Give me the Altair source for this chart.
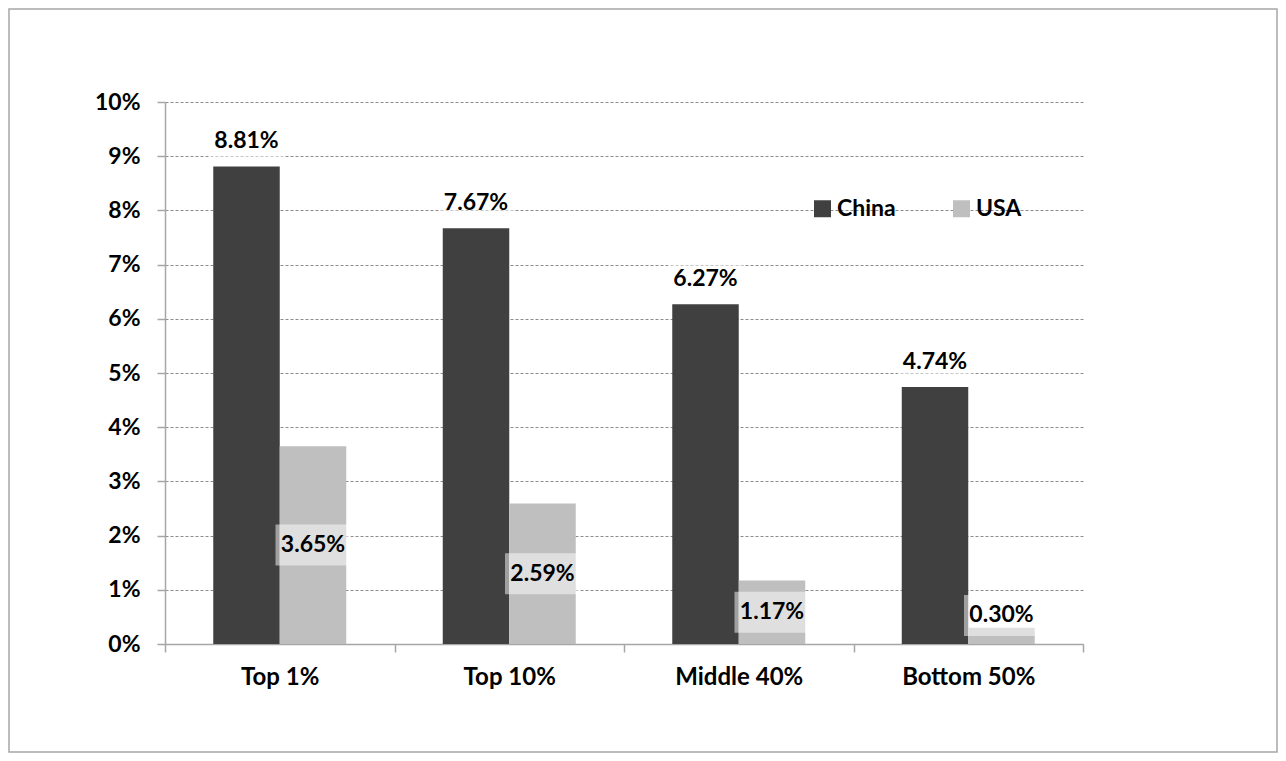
import altair as alt
import pandas as pd

# ---- data ----
categories = ["Top 1%", "Top 10%", "Middle 40%", "Bottom 50%"]
series = ["China", "USA"]
china = [8.81, 7.67, 6.27, 4.74]
usa = [3.65, 2.59, 1.17, 0.30]
colors = ["#404040", "#bfbfbf"]
y_ticks = [0, 1, 2, 3, 4, 5, 6, 7, 8, 9, 10]

rows = []
for name, vals in zip(series, [china, usa]):
    for c, v in zip(categories, vals):
        rows.append({"category": c, "country": name, "value": v / 100})
df = pd.DataFrame(rows)

W, H = 918, 542
FONT = "Lato"
WEIGHT = "bold"
AXIS_GRAY = "#a6a6a6"

x_scale = alt.Scale(paddingInner=0, paddingOuter=0)
x_axis = alt.Axis(
    title=None, labelAngle=0, tickBand="extent", tickSize=8, tickColor=AXIS_GRAY,
    tickWidth=1.5, domainColor=AXIS_GRAY, domainWidth=1.5, labelFont=FONT,
    labelFontSize=24, labelFontWeight=WEIGHT, labelColor="#000000", labelPadding=13,
    grid=False,
)
y_scale = alt.Scale(domain=[0, 0.1], nice=False)
y_axis = alt.Axis(
    title=None, values=[t / 100 for t in y_ticks], format=".0%", tickSize=8,
    tickColor=AXIS_GRAY, tickWidth=1.5, domainColor=AXIS_GRAY, domainWidth=1.5,
    labelFont=FONT, labelFontSize=23, labelFontWeight=WEIGHT, labelColor="#000000",
    labelPadding=17, grid=True, gridColor="#8c8c8c", gridDash=[3, 2], gridWidth=1,
)

X = alt.X("category:N", sort=categories, scale=x_scale, axis=x_axis)
XO = alt.XOffset("country:N", sort=series,
                 scale=alt.Scale(paddingInner=0, paddingOuter=0.7256))

base = alt.Chart(df)

bars = base.mark_bar().encode(
    x=X,
    xOffset=XO,
    y=alt.Y("value:Q", scale=y_scale, axis=y_axis),
    color=alt.Color(
        "country:N", sort=series,
        scale=alt.Scale(domain=series, range=colors),
        legend=alt.Legend(
            orient="none", legendX=646, legendY=95, direction="horizontal", title=None,
            symbolType="square", symbolSize=289, symbolStrokeWidth=0, labelFont=FONT,
            labelFontSize=23, labelFontWeight=WEIGHT, labelColor="#000000",
            columnPadding=54, labelOffset=3, padding=0,
        ),
    ),
)

# semi-transparent label boxes
china_box = base.transform_filter(alt.datum.country == "China").transform_calculate(
    lo="datum.value + 0.0011", hi="datum.value + 0.0085"
).mark_bar(width=75, xOffset=-4, color="#ffffff", opacity=0.5).encode(
    x=X, xOffset=XO,
    y=alt.Y("lo:Q", scale=y_scale, axis=y_axis), y2="hi:Q",
)

usa_box = base.transform_filter(alt.datum.country == "USA").transform_calculate(
    mid="max(datum.value / 2, 0.00526)"
).transform_calculate(
    lo="datum.mid - 0.00378", hi="datum.mid + 0.00378"
).mark_bar(width=75, xOffset=-4, color="#ffffff", opacity=0.5).encode(
    x=X, xOffset=XO,
    y=alt.Y("lo:Q", scale=y_scale, axis=y_axis), y2="hi:Q",
)

china_text = base.transform_filter(alt.datum.country == "China").mark_text(
    dy=-18, baseline="alphabetic", font=FONT, fontSize=23, fontWeight=WEIGHT, color="#000000"
).encode(
    x=X, xOffset=XO,
    y=alt.Y("value:Q", scale=y_scale, axis=y_axis),
    text=alt.Text("value:Q", format=".2%"),
)

usa_text = base.transform_filter(alt.datum.country == "USA").transform_calculate(
    mid="max(datum.value / 2, 0.00526)"
).mark_text(
    baseline="middle", font=FONT, fontSize=23, fontWeight=WEIGHT, color="#000000"
).encode(
    x=X, xOffset=XO,
    y=alt.Y("mid:Q", scale=y_scale, axis=y_axis),
    text=alt.Text("value:Q", format=".2%"),
)

frame = alt.Chart(alt.Data(values=[{"f": 1}])).mark_rect(
    fill="#ffffff", fillOpacity=0, stroke="#a6a6a6", strokeWidth=1.5
).encode(
    x=alt.value(-156), x2=alt.value(1112), y=alt.value(-93), y2=alt.value(650),
)

chart = alt.layer(frame, bars, china_box, usa_box, china_text, usa_text).properties(
    width=W, height=H,
    padding={"left": 157, "top": 94, "right": 195, "bottom": 109},
    autosize=alt.AutoSizeParams(type="none"),
    background="#ffffff",
).configure_view(stroke=None)

chart.save("out.html", embed_options={"renderer": "svg", "actions": False})
